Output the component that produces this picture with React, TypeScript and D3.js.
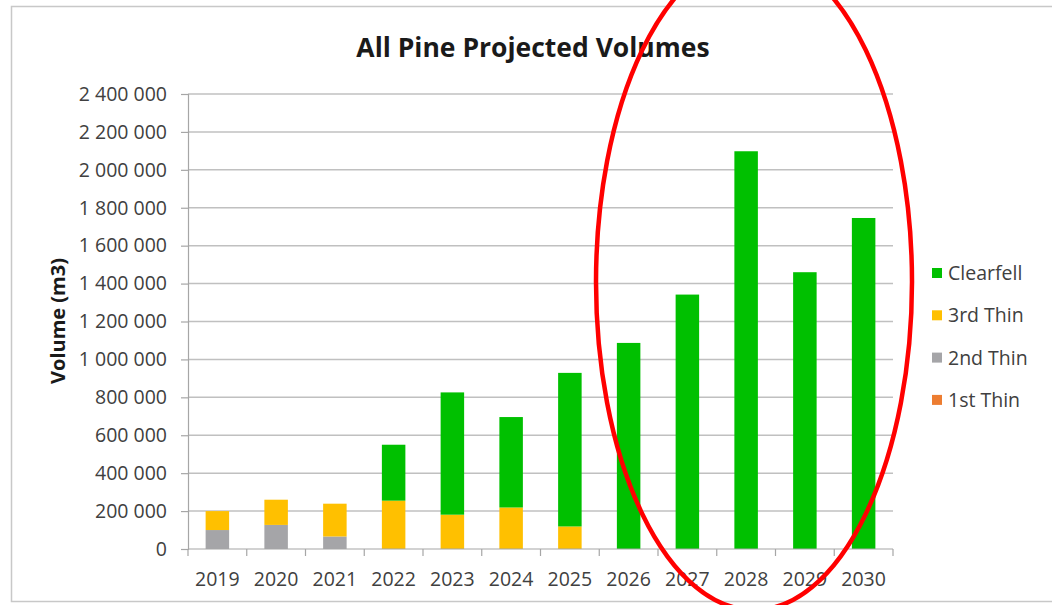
import { useEffect, useRef } from 'react';
import * as d3 from 'd3';

const YEARS = ['2019', '2020', '2021', '2022', '2023', '2024', '2025', '2026', '2027', '2028', '2029', '2030'];
const FIRST_THIN = [0, 0, 0, 0, 0, 0, 0, 0, 0, 0, 0, 0];
const SECOND_THIN = [100000, 127000, 66000, 0, 0, 0, 0, 0, 0, 0, 0, 0];
const THIRD_THIN = [100000, 133000, 173000, 255000, 181000, 219000, 119000, 0, 0, 0, 0, 0];
const CLEARFELL = [0, 0, 0, 295000, 645000, 477000, 810000, 1087000, 1342000, 2098000, 1460000, 1746000];
const Y_TICKS = [0, 200000, 400000, 600000, 800000, 1000000, 1200000, 1400000, 1600000, 1800000, 2000000, 2200000, 2400000];

const SERIES = [
  { key: 'first', name: '1st Thin', color: '#ED7D31', values: FIRST_THIN },
  { key: 'second', name: '2nd Thin', color: '#A5A5A8', values: SECOND_THIN },
  { key: 'third', name: '3rd Thin', color: '#FFC000', values: THIRD_THIN },
  { key: 'clear', name: 'Clearfell', color: '#00C000', values: CLEARFELL },
];

const W = 1052;
const H = 605;
const FONT = '"Open Sans", "Liberation Sans", sans-serif';

export default function App() {
  const svgRef = useRef<SVGSVGElement>(null);

  useEffect(() => {
    document.body.style.margin = '0';
    if (!svgRef.current) return;
    const svg = d3.select(svgRef.current);
    svg.selectAll('*').remove();

    const plot = { left: 188, right: 893, top: 94, bottom: 549 };

    const x = d3.scaleBand().domain(YEARS).range([plot.left, plot.right]).paddingInner(0.6).paddingOuter(0.3);
    const xOuter = d3.scaleBand().domain(YEARS).range([plot.left, plot.right]);
    const y = d3.scaleLinear().domain([0, 2400000]).range([plot.bottom, plot.top]);

    // chart frame
    svg.append('rect').attr('x', 0).attr('y', 0).attr('width', W).attr('height', H).attr('fill', '#fff');
    svg.append('rect')
      .attr('x', 11.5).attr('y', 6.5).attr('width', W + 10).attr('height', 595)
      .attr('fill', 'none').attr('stroke', '#c8c8c8').attr('stroke-width', 1.5);

    // title
    svg.append('text')
      .attr('x', 533).attr('y', 57)
      .attr('text-anchor', 'middle')
      .attr('fill', '#1a1a1a')
      .style('font-family', FONT).style('font-size', '26.5px').style('font-weight', '700')
      .text('All Pine Projected Volumes');

    // gridlines
    svg.selectAll('.grid')
      .data(Y_TICKS.filter(d => d > 0))
      .enter().append('line')
      .attr('x1', plot.left).attr('x2', plot.right)
      .attr('y1', d => y(d)).attr('y2', d => y(d))
      .attr('stroke', '#c0c0c0').attr('stroke-width', 1.5);

    // y axis
    const yAxis = svg.append('g').attr('transform', `translate(${plot.left},0)`)
      .call(d3.axisLeft(y).tickValues(Y_TICKS).tickSize(7).tickPadding(14)
        .tickFormat(d => d3.format(',')(d as number).replace(/,/g, ' ')));
    yAxis.select('.domain').attr('stroke', '#a6a6a6').attr('stroke-width', 1.2);
    yAxis.selectAll('.tick line').attr('stroke', '#a6a6a6').attr('stroke-width', 1.2);
    yAxis.selectAll('.tick text')
      .attr('fill', '#404040')
      .style('font-family', FONT).style('font-size', '19.5px');

    // stacked bars
    const rows = YEARS.map((yr, i) => {
      const r: Record<string, number | string> = { year: yr };
      SERIES.forEach(s => { r[s.key] = s.values[i]; });
      return r;
    });
    const stack = d3.stack<Record<string, number | string>>().keys(SERIES.map(s => s.key));
    const layers = stack(rows as any);
    layers.forEach((layer, li) => {
      svg.append('g').selectAll('rect')
        .data(layer)
        .enter().append('rect')
        .attr('x', d => x(d.data.year as string)!)
        .attr('width', x.bandwidth())
        .attr('y', d => y(d[1]))
        .attr('height', d => Math.max(0, y(d[0]) - y(d[1])))
        .attr('fill', SERIES[li].color);
    });

    // x axis
    const xAxis = svg.append('g').attr('transform', `translate(0,${plot.bottom})`);
    xAxis.append('line')
      .attr('x1', plot.left).attr('x2', plot.right)
      .attr('stroke', '#a6a6a6').attr('stroke-width', 1.2);
    const bounds = YEARS.map(yr => xOuter(yr)!).concat([plot.right]);
    xAxis.selectAll('.xt').data(bounds).enter().append('line')
      .attr('x1', d => d).attr('x2', d => d).attr('y1', 0).attr('y2', 7)
      .attr('stroke', '#a6a6a6').attr('stroke-width', 1.2);
    xAxis.selectAll('.xl').data(YEARS).enter().append('text')
      .attr('x', d => xOuter(d)! + xOuter.bandwidth() / 2)
      .attr('y', 37)
      .attr('text-anchor', 'middle')
      .attr('fill', '#404040')
      .style('font-family', FONT).style('font-size', '19.5px')
      .text(d => d);

    // y axis title
    svg.append('text')
      .attr('transform', 'translate(65,321) rotate(-90)')
      .attr('text-anchor', 'middle')
      .attr('fill', '#1a1a1a')
      .style('font-family', FONT).style('font-size', '20px').style('font-weight', '700')
      .text('Volume (m3)');

    // legend
    const legend = [...SERIES].reverse();
    const lg = svg.append('g').selectAll('g').data(legend).enter().append('g')
      .attr('transform', (_, i) => `translate(932,${273 + i * 42.3})`);
    lg.append('rect').attr('x', 0).attr('y', -5).attr('width', 10).attr('height', 10).attr('fill', d => d.color);
    lg.append('text')
      .attr('x', 16).attr('y', 7)
      .attr('fill', '#404040')
      .style('font-family', FONT).style('font-size', '19.5px')
      .text(d => d.name);

    // red annotation ellipse
    svg.append('ellipse')
      .attr('cx', 754).attr('cy', 282).attr('rx', 158).attr('ry', 328)
      .attr('fill', 'none').attr('stroke', '#ff0000').attr('stroke-width', 4.5);
  }, []);

  return <svg ref={svgRef} width={W} height={H} style={{ display: 'block' }} />;
}
